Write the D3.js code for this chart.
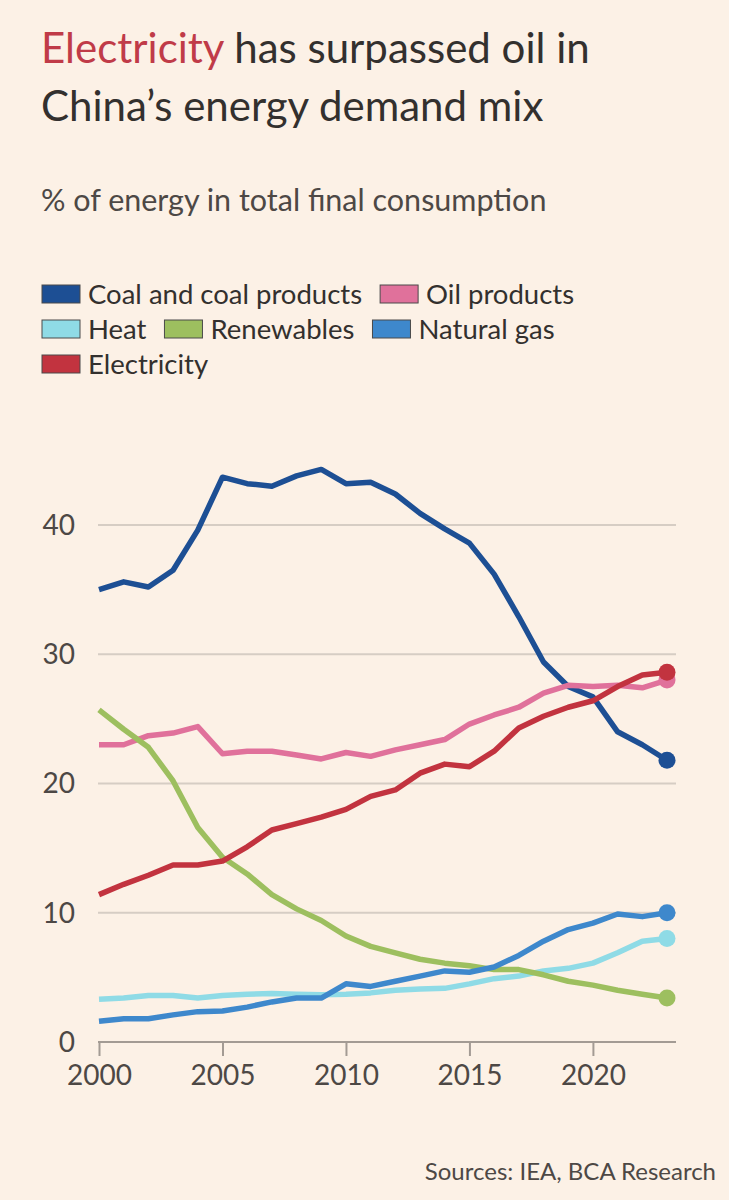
<!DOCTYPE html>
<html>
<head>
<meta charset="utf-8">
<script src="https://cdn.jsdelivr.net/npm/d3@7"></script>
<style>
  body { margin: 0; background: #fcf1e6; }
  svg { display: block; }
  text { font-family: Lato, "Open Sans", sans-serif; fill: #33302e; }
</style>
</head>
<body>
<div id="chart"></div>
<script>
// years on the x axis
let years = d3.range(2000, 2024);

// series, % of energy in total final consumption
let coal = [35.0, 35.6, 35.2, 36.5, 39.6, 43.7, 43.2, 43.0, 43.8, 44.3, 43.2, 43.3,
            42.4, 40.9, 39.7, 38.6, 36.2, 32.9, 29.4, 27.5, 26.7, 24.0, 23.0, 21.8];
let oil = [23.0, 23.0, 23.7, 23.9, 24.4, 22.3, 22.5, 22.5, 22.2, 21.9, 22.4, 22.1,
           22.6, 23.0, 23.4, 24.6, 25.3, 25.9, 27.0, 27.6, 27.5, 27.6, 27.4, 28.0];
let heat = [3.3, 3.4, 3.6, 3.6, 3.4, 3.6, 3.7, 3.75, 3.7, 3.65, 3.7, 3.8,
            4.0, 4.1, 4.15, 4.5, 4.9, 5.1, 5.5, 5.7, 6.1, 6.9, 7.8, 8.0];
let renewables = [25.7, 24.2, 22.8, 20.2, 16.6, 14.3, 13.0, 11.4, 10.3, 9.4, 8.2, 7.4,
                  6.9, 6.4, 6.1, 5.9, 5.6, 5.6, 5.2, 4.7, 4.4, 4.0, 3.7, 3.4];
let gas = [1.6, 1.8, 1.8, 2.1, 2.35, 2.4, 2.7, 3.1, 3.4, 3.4, 4.5, 4.3,
           4.7, 5.1, 5.5, 5.4, 5.8, 6.7, 7.8, 8.7, 9.2, 9.9, 9.7, 10.0];
let electricity = [11.4, 12.2, 12.9, 13.7, 13.7, 14.0, 15.1, 16.4, 16.9, 17.4, 18.0, 19.0,
                   19.5, 20.8, 21.5, 21.3, 22.5, 24.3, 25.2, 25.9, 26.4, 27.5, 28.4, 28.6];

let seriesNames = ["Coal and coal products", "Oil products", "Heat", "Renewables", "Natural gas", "Electricity"];
let seriesColors = ["#1d4f94", "#e0719b", "#8fdbe6", "#9dbf5f", "#3e88cc", "#c2333f"];
let seriesValues = [coal, oil, heat, renewables, gas, electricity];

let yTicks = [0, 10, 20, 30, 40];
let xTicks = [2000, 2005, 2010, 2015, 2020];

let width = 729, height = 1200;

let svg = d3.select("#chart").append("svg")
  .attr("width", width)
  .attr("height", height);

svg.append("rect").attr("width", width).attr("height", height).attr("fill", "#fcf1e6");

let xScale = d3.scaleLinear().domain([2000, 2023]).range([99, 667]);
let yScale = d3.scaleLinear().domain([0, 40]).range([1042, 525]);

// title
let title = svg.append("text")
  .attr("x", 41).attr("y", 63)
  .style("font-size", "42px");
title.append("tspan").style("fill", "#c03b48").text("Electricity");
title.append("tspan").text(" has surpassed oil in");
svg.append("text")
  .attr("x", 41).attr("y", 121)
  .style("font-size", "42px")
  .text("China\u2019s energy demand mix");

// subtitle
svg.append("text")
  .attr("x", 41).attr("y", 211)
  .style("font-size", "30.5px")
  .style("fill", "#4d4845")
  .text("% of energy in total final consumption");

// legend, laid out in rows like the original
let legendRows = [[0, 1], [2, 3, 4], [5]];
legendRows.forEach(function(row, r) {
  let x = 42;
  row.forEach(function(i) {
    let g = svg.append("g").attr("transform", "translate(" + x + "," + (285 + r * 35) + ")");
    g.append("rect")
      .attr("width", 38).attr("height", 18)
      .attr("fill", seriesColors[i])
      .attr("stroke", "#4a4a4a").attr("stroke-width", 1);
    let t = g.append("text")
      .attr("x", 46).attr("y", 19)
      .style("font-size", "27.5px")
      .text(seriesNames[i]);
    x += 46 + t.node().getComputedTextLength() + 18;
  });
});

// gridlines
svg.append("g")
  .selectAll("line")
  .data(yTicks.filter(function(d) { return d > 0; }))
  .enter()
  .append("line")
  .attr("x1", 98).attr("x2", 676)
  .attr("y1", function(d) { return yScale(d); })
  .attr("y2", function(d) { return yScale(d); })
  .attr("stroke", "#d6cdc4")
  .attr("stroke-width", 2);

// y tick labels
svg.append("g")
  .selectAll("text")
  .data(yTicks)
  .enter()
  .append("text")
  .attr("x", 75)
  .attr("y", function(d) { return yScale(d); })
  .attr("dy", "0.35em")
  .attr("text-anchor", "end")
  .style("font-size", "28px")
  .style("fill", "#4d4845")
  .text(function(d) { return d; });

// x axis
let xAxis = d3.axisBottom(xScale)
  .tickValues(xTicks)
  .tickFormat(d3.format("d"))
  .tickSize(14)
  .tickPadding(9);

let axisG = svg.append("g")
  .attr("transform", "translate(0," + yScale(0) + ")")
  .call(xAxis);
axisG.select(".domain").remove();
axisG.append("line")
  .attr("x1", 98).attr("x2", 676)
  .attr("stroke", "#a39b94").attr("stroke-width", 2);
axisG.selectAll(".tick line").attr("stroke", "#a39b94").attr("stroke-width", 2);
axisG.selectAll(".tick text")
  .style("font-size", "28px")
  .style("font-family", "Lato, sans-serif")
  .style("fill", "#4d4845");

// lines
let line = d3.line()
  .x(function(d, i) { return xScale(years[i]); })
  .y(function(d) { return yScale(d); });

let drawOrder = [0, 1, 2, 3, 4, 5];
drawOrder.forEach(function(i) {
  svg.append("path")
    .attr("d", line(seriesValues[i]))
    .attr("fill", "none")
    .attr("stroke", seriesColors[i])
    .attr("stroke-width", 5.5)
    .attr("stroke-linejoin", "round");
  let last = seriesValues[i].length - 1;
  svg.append("circle")
    .attr("cx", xScale(years[last]))
    .attr("cy", yScale(seriesValues[i][last]))
    .attr("r", 8.5)
    .attr("fill", seriesColors[i]);
});

// source
svg.append("text")
  .attr("x", 716).attr("y", 1180)
  .attr("text-anchor", "end")
  .style("font-size", "24px")
  .style("fill", "#4d4845")
  .text("Sources: IEA, BCA Research");
</script>
</body>
</html>
